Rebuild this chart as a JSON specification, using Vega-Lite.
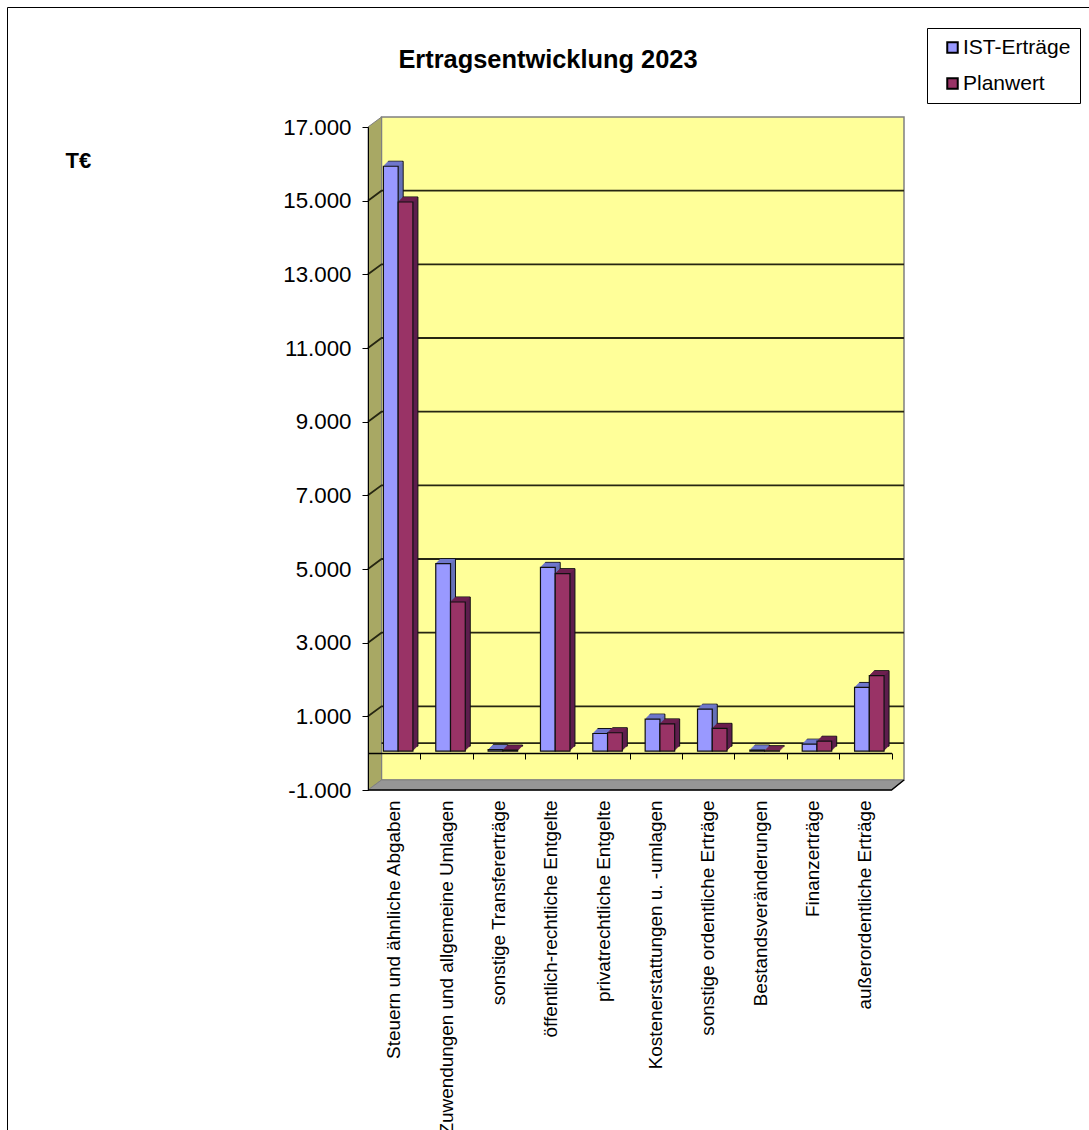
{"$schema":"https://vega.github.io/schema/vega-lite/v6.json","width":1082,"height":1123,"autosize":"none","padding":{"left":7,"top":7,"right":0,"bottom":0},"background":"white","config":{"view":{"stroke":"#000","strokeWidth":1},"font":"Liberation Sans"},"title":{"text":"Ertragsentwicklung 2023","font":"Liberation Sans","fontSize":25.4,"fontWeight":"bold","color":"#000","anchor":"middle","frame":"group","offset":-66},"datasets":{"d":[{"cat":"Steuern und ähnliche Abgaben","series":"IST-Erträge","v":15880},{"cat":"Steuern und ähnliche Abgaben","series":"Planwert","v":14910},{"cat":"Zuwendungen und allgemeine Umlagen","series":"IST-Erträge","v":5090},{"cat":"Zuwendungen und allgemeine Umlagen","series":"Planwert","v":4050},{"cat":"sonstige Transfererträge","series":"IST-Erträge","v":40},{"cat":"sonstige Transfererträge","series":"Planwert","v":30},{"cat":"öffentlich-rechtliche Entgelte","series":"IST-Erträge","v":4990},{"cat":"öffentlich-rechtliche Entgelte","series":"Planwert","v":4820},{"cat":"privatrechtliche Entgelte","series":"IST-Erträge","v":480},{"cat":"privatrechtliche Entgelte","series":"Planwert","v":500},{"cat":"Kostenerstattungen u. -umlagen","series":"IST-Erträge","v":870},{"cat":"Kostenerstattungen u. -umlagen","series":"Planwert","v":740},{"cat":"sonstige ordentliche Erträge","series":"IST-Erträge","v":1140},{"cat":"sonstige ordentliche Erträge","series":"Planwert","v":620},{"cat":"Bestandsveränderungen","series":"IST-Erträge","v":30},{"cat":"Bestandsveränderungen","series":"Planwert","v":10},{"cat":"Finanzerträge","series":"IST-Erträge","v":190},{"cat":"Finanzerträge","series":"Planwert","v":270},{"cat":"außerordentliche Erträge","series":"IST-Erträge","v":1730},{"cat":"außerordentliche Erträge","series":"Planwert","v":2050}]},"layer":[{"layer":[{"data":{"values":[{"x":0.0252,"x2":1,"y":-728.5,"y2":17271.5}]},"mark":{"type":"rect","fill":"#FFFF99","stroke":"#808080","strokeWidth":1.5},"encoding":{"x":{"field":"x","type":"quantitative","scale":{"domain":[0,1],"range":[361,897],"nice":false,"zero":false},"axis":null},"x2":{"field":"x2"},"y":{"field":"y","type":"quantitative","scale":{"domain":[-1000,17000],"range":[783,120],"nice":false,"zero":false},"axis":{"orient":"left","offset":-361,"values":[-1000,1000,3000,5000,7000,9000,11000,13000,15000,17000],"labelExpr":"replace(replace(format(datum.value,',d'),',','.'),'−','-')","labelFont":"Liberation Sans","labelFontSize":22.3,"labelColor":"#000","labelPadding":11,"tickColor":"#000","tickSize":6,"domainColor":"#000","grid":false,"zindex":1,"title":"T€","titleFont":"Liberation Sans","titleFontSize":22,"titleFontWeight":"bold","titleColor":"#000","titleAngle":0,"titleX":-303,"titleY":153,"titleAlign":"left","titleBaseline":"middle"}},"y2":{"field":"y2"}}},{"data":{"values":[{"x":0,"y":-1000,"y2":17000},{"x":0.0252,"y":-728.5,"y2":17271.5}]},"mark":{"type":"area","fill":"#A8A864","stroke":"#808080","strokeWidth":1},"encoding":{"x":{"field":"x","type":"quantitative","axis":null},"y":{"field":"y","type":"quantitative"},"y2":{"field":"y2"}}},{"data":{"values":[{"x":0,"y":-1000,"y2":-1000},{"x":0.0252,"y":-1000,"y2":-728.5},{"x":0.9767,"y":-1000,"y2":-728.5},{"x":1,"y":-728.5,"y2":-728.5}]},"mark":{"type":"area","fill":"#969696","stroke":"#808080","strokeWidth":1},"encoding":{"x":{"field":"x","type":"quantitative","axis":null},"y":{"field":"y","type":"quantitative"},"y2":{"field":"y2"}}},{"data":{"values":[{"x":0,"y":-1000},{"x":0.9767,"y":-1000},{"x":1,"y":-728.5}]},"mark":{"type":"line","color":"#000","strokeWidth":1.5},"encoding":{"x":{"field":"x","type":"quantitative","axis":null},"y":{"field":"y","type":"quantitative"}}},{"data":{"values":[{"level":0,"x":0.0252,"y":271.5},{"level":0,"x":1,"y":271.5},{"level":1000,"x":0,"y":1000},{"level":1000,"x":0.0252,"y":1271.5},{"level":1000,"x":1,"y":1271.5},{"level":3000,"x":0,"y":3000},{"level":3000,"x":0.0252,"y":3271.5},{"level":3000,"x":1,"y":3271.5},{"level":5000,"x":0,"y":5000},{"level":5000,"x":0.0252,"y":5271.5},{"level":5000,"x":1,"y":5271.5},{"level":7000,"x":0,"y":7000},{"level":7000,"x":0.0252,"y":7271.5},{"level":7000,"x":1,"y":7271.5},{"level":9000,"x":0,"y":9000},{"level":9000,"x":0.0252,"y":9271.5},{"level":9000,"x":1,"y":9271.5},{"level":11000,"x":0,"y":11000},{"level":11000,"x":0.0252,"y":11271.5},{"level":11000,"x":1,"y":11271.5},{"level":13000,"x":0,"y":13000},{"level":13000,"x":0.0252,"y":13271.5},{"level":13000,"x":1,"y":13271.5},{"level":15000,"x":0,"y":15000},{"level":15000,"x":0.0252,"y":15271.5},{"level":15000,"x":1,"y":15271.5}]},"mark":{"type":"line","color":"#262612","strokeWidth":1.8},"encoding":{"x":{"field":"x","type":"quantitative","axis":null},"y":{"field":"y","type":"quantitative"},"detail":{"field":"level"}}}]},{"data":{"name":"d"},"mark":{"type":"rule","opacity":0},"encoding":{"x":{"field":"cat","type":"nominal","sort":null,"scale":{"range":[361,884.5]},"axis":{"orient":"bottom","offset":-377,"labels":false,"title":null,"tickBand":"extent","tickSize":6,"tickColor":"#000","domainColor":"#000","domainWidth":1.5,"grid":false,"zindex":1}}}},{"data":{"name":"d"},"encoding":{"x":{"field":"cat","type":"nominal","sort":null,"scale":{"range":[361,884.5],"paddingInner":0.436,"paddingOuter":0.218},"axis":{"orient":"bottom","offset":-340,"ticks":false,"domain":false,"title":null,"labelAngle":-90,"labelAlign":"right","labelBaseline":"middle","labelFont":"Liberation Sans","labelFontSize":18.9,"labelColor":"#000","labelPadding":10,"labelLimit":500,"labelOverlap":false}},"y":{"field":"v","type":"quantitative"}},"layer":[{"mark":{"type":"bar","stroke":"#111","strokeWidth":1,"yOffset":-7,"y2Offset":-7},"encoding":{"xOffset":{"field":"series","type":"nominal","sort":null,"scale":{"range":[9,38.5]}},"y2":{"datum":0},"fill":{"field":"series","sort":null,"scale":{"range":["#6670B8","#5E1E4E"]},"legend":null}}},{"mark":{"type":"bar","yOffset":-6,"y2Offset":-6},"encoding":{"xOffset":{"field":"series","type":"nominal","sort":null,"scale":{"range":[8,37.5]}},"y2":{"datum":0},"fill":{"field":"series","sort":null,"scale":{"range":["#6670B8","#5E1E4E"]},"legend":null}}},{"mark":{"type":"bar","yOffset":-5,"y2Offset":-5},"encoding":{"xOffset":{"field":"series","type":"nominal","sort":null,"scale":{"range":[7,36.5]}},"y2":{"datum":0},"fill":{"field":"series","sort":null,"scale":{"range":["#6670B8","#5E1E4E"]},"legend":null}}},{"mark":{"type":"bar","yOffset":-4,"y2Offset":-4},"encoding":{"xOffset":{"field":"series","type":"nominal","sort":null,"scale":{"range":[6,35.5]}},"y2":{"datum":0},"fill":{"field":"series","sort":null,"scale":{"range":["#6670B8","#5E1E4E"]},"legend":null}}},{"mark":{"type":"bar","yOffset":-3,"y2Offset":-3},"encoding":{"xOffset":{"field":"series","type":"nominal","sort":null,"scale":{"range":[5,34.5]}},"y2":{"datum":0},"fill":{"field":"series","sort":null,"scale":{"range":["#6670B8","#5E1E4E"]},"legend":null}}},{"mark":{"type":"bar","strokeWidth":1,"yOffset":-6,"y2Offset":-6},"encoding":{"xOffset":{"field":"series","type":"nominal","sort":null,"scale":{"range":[8,37.5]}},"y2":{"field":"v"},"stroke":{"field":"series","sort":null,"scale":{"range":["#7078CC","#6E2050"]},"legend":null}}},{"mark":{"type":"bar","strokeWidth":1,"yOffset":-5,"y2Offset":-5},"encoding":{"xOffset":{"field":"series","type":"nominal","sort":null,"scale":{"range":[7,36.5]}},"y2":{"field":"v"},"stroke":{"field":"series","sort":null,"scale":{"range":["#7078CC","#6E2050"]},"legend":null}}},{"mark":{"type":"bar","strokeWidth":1,"yOffset":-4,"y2Offset":-4},"encoding":{"xOffset":{"field":"series","type":"nominal","sort":null,"scale":{"range":[6,35.5]}},"y2":{"field":"v"},"stroke":{"field":"series","sort":null,"scale":{"range":["#7078CC","#6E2050"]},"legend":null}}},{"mark":{"type":"bar","strokeWidth":1,"yOffset":-3,"y2Offset":-3},"encoding":{"xOffset":{"field":"series","type":"nominal","sort":null,"scale":{"range":[5,34.5]}},"y2":{"field":"v"},"stroke":{"field":"series","sort":null,"scale":{"range":["#7078CC","#6E2050"]},"legend":null}}},{"mark":{"type":"bar","stroke":"#111","strokeWidth":1.2,"yOffset":-2,"y2Offset":-2},"encoding":{"xOffset":{"field":"series","type":"nominal","sort":null,"scale":{"range":[4,33.5]}},"y2":{"datum":0},"fill":{"field":"series","type":"nominal","sort":null,"title":null,"scale":{"range":["#9999FF","#993366"]},"legend":{"orient":"none","legendX":920,"legendY":21,"fillColor":"#fff","strokeColor":"#000","padding":9,"symbolType":"square","symbolSize":110,"symbolStrokeColor":"#000","symbolStrokeWidth":2,"symbolOffset":6,"labelFont":"Liberation Sans","labelFontSize":21,"labelColor":"#000","labelOffset":0,"rowPadding":14,"labelLimit":200}}}}],"resolve":{"scale":{"fill":"independent","stroke":"independent","xOffset":"independent"}}}],"resolve":{"scale":{"x":"independent"},"axis":{"x":"independent"}}}
